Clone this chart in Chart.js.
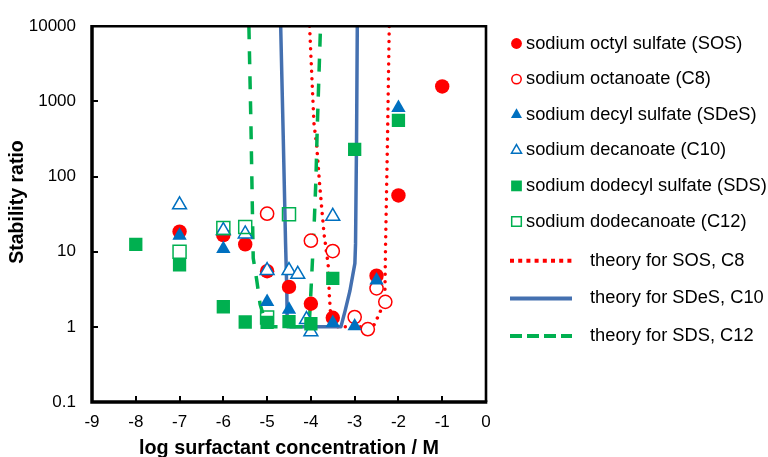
<!DOCTYPE html>
<html><head><meta charset="utf-8">
<script src="https://cdn.jsdelivr.net/npm/chart.js@4/dist/chart.umd.min.js"></script>
<style>html,body{margin:0;padding:0;background:#fff;}#wrap{width:768px;height:457px;}</style>
</head><body><div id="wrap"><canvas id="c" width="768" height="457"></canvas></div>
<script>
// ---- data ----
const xTicks = [-9,-8,-7,-6,-5,-4,-3,-2,-1,0];
const yTicks = [0.1,1,10,100,1000,10000];

const sosX = [-7,-6,-5.5,-5,-4.5,-4,-3.5,-2.5,-2,-1];
const sosY = [18.5,16.6,12.5,5.5,3.4,2.03,1.32,4.8,56,1580];
const c8X = [-5,-4,-3.5,-3,-2.7,-2.5,-2.3];
const c8Y = [32,14,10.2,1.35,0.93,3.25,2.15];
const sdesX = [-7,-6,-5,-4.5,-3.5,-3,-2.5,-2];
const sdesY = [16.4,10.9,2.15,1.7,1.13,1.02,4.15,820];
const c10X = [-7,-6,-5.5,-5,-4.5,-4.3,-4.1,-4,-3.5];
const c10Y = [42,19.1,17.2,5.6,5.6,5.0,1.25,0.86,29.5];
const sdsX = [-8,-7,-6,-5.5,-5,-4.5,-4,-3.5,-3,-2];
const sdsY = [12.5,6.7,1.85,1.16,1.15,1.17,1.1,4.4,229,560];
const c12X = [-7,-6,-5.5,-5,-4.5];
const c12Y = [10,20.7,21.3,1.33,31.5];

const thSosX = [-4.03,-3.93,-3.87,-3.795,-3.70,-3.605,-3.58,-3.53,-2.58,-2.425,-2.31,-2.295,-2.25,-2.21];
const thSosY = [10000,513,266,72,17.4,6.7,2.7,1,1,1.53,2.56,11.6,307,10000];
const thSdesX = [-4.69,-4.63,-4.578,-4.55,-4.54,-3.315,-3.22,-3.11,-2.995,-2.98,-2.957,-2.94];
const thSdesY = [10000,307,12.7,3.0,1,1,1.62,2.98,7,12.7,307,10000];
const thSdsX = [-5.416,-5.37,-5.34,-5.317,-5.24,-5.16,-5.01,-4.04,-3.984,-3.93,-3.886,-3.856,-3.78];
const thSdsY = [10000,513,48,8.2,4.3,2.0,1,1,4.4,19.5,88.6,415,10000];

// ---- styling ----
const FONT = '"Liberation Sans", Arial, sans-serif';
const RED = '#FF0000', BLUE = '#0070C0', GREEN = '#00B050', LBLUE = '#4470B0';
const NOFILL = 'rgba(255,255,255,0)';
const zip = (xs, ys) => xs.map((x, i) => ({x: x, y: ys[i]}));

function markerSet(label, xs, ys, style, r, fill, stroke, bw, order, legR) {
  return {label, data: zip(xs, ys), showLine: false, pointStyle: style, pointRadius: r,
    pointHoverRadius: r, pointBackgroundColor: fill, pointBorderColor: stroke,
    pointBorderWidth: bw, order, legendRadius: legR};
}
function lineSet(label, xs, ys, color, dash, cap, order, legDash) {
  return {label, data: zip(xs, ys), showLine: true, pointRadius: 0, pointHoverRadius: 0,
    borderColor: color, borderWidth: 3.5, borderDash: dash, borderCapStyle: cap,
    borderJoinStyle: 'round', tension: 0, fill: false, order, legendDash: legDash};
}

const datasets = [
  markerSet('sodium octyl sulfate (SOS)', sosX, sosY, 'circle', 7.2, RED, RED, 0, 6, 5.4),
  markerSet('sodium octanoate (C8)', c8X, c8Y, 'circle', 6.6, '#fff', RED, 1.5, 5, 4.7),
  markerSet('sodium decyl sulfate (SDeS)', sdesX, sdesY, 'triangle', 8.3, BLUE, BLUE, 0, 4, 6.4),
  markerSet('sodium decanoate (C10)', c10X, c10Y, 'triangle', 8.0, '#fff', BLUE, 1.5, 3, 5.8),
  markerSet('sodium dodecyl sulfate (SDS)', sdsX, sdsY, 'rect', 9.4, GREEN, GREEN, 0, 2, 7.6),
  markerSet('sodium dodecanoate (C12)', c12X, c12Y, 'rect', 9.2, NOFILL, GREEN, 1.5, 1, 6.8),
  lineSet('theory for SOS, C8', thSosX, thSosY, RED, [0.01, 7.5], 'round', 12, [4, 4.2]),
  lineSet('theory for SDeS, C10', thSdesX, thSdesY, LBLUE, [], 'butt', 11, []),
  lineSet('theory for SDS, C12', thSdsX, thSdsY, GREEN, [13, 12], 'butt', 10, [12, 5])
];

// frame + inward ticks + y title
const framePlugin = {
  id: 'frame',
  afterDatasetsDraw(chart) {
    const ctx = chart.ctx, a = chart.chartArea;
    const xs = chart.scales.x, ys = chart.scales.y;
    ctx.save();
    ctx.strokeStyle = '#000';
    ctx.lineCap = 'butt';
    ctx.lineWidth = 2;
    xTicks.forEach(v => {
      const px = Math.round(xs.getPixelForValue(v));
      ctx.beginPath(); ctx.moveTo(px, a.bottom); ctx.lineTo(px, a.bottom - 6); ctx.stroke();
    });
    yTicks.forEach(v => {
      const py = Math.round(ys.getPixelForValue(v));
      ctx.beginPath(); ctx.moveTo(a.left, py); ctx.lineTo(a.left + 6, py); ctx.stroke();
    });
    ctx.lineWidth = 2.6;
    ctx.beginPath(); ctx.moveTo(a.left, a.top); ctx.lineTo(a.right, a.top); ctx.lineTo(a.right, a.bottom); ctx.stroke();
    ctx.lineWidth = 3.5;
    ctx.beginPath(); ctx.moveTo(a.left, a.top - 1.3); ctx.lineTo(a.left, a.bottom); ctx.lineTo(a.right + 1.3, a.bottom); ctx.stroke();
    ctx.fillStyle = '#000';
    ctx.font = 'bold 19.5px ' + FONT;
    ctx.textAlign = 'center';
    ctx.textBaseline = 'middle';
    ctx.translate(18, 202);
    ctx.rotate(-Math.PI / 2);
    ctx.fillText('Stability ratio', 0, 0);
    ctx.restore();
  }
};

const legendPlugin = {
  id: 'customLegend',
  afterDraw(chart) {
    const ctx = chart.ctx;
    ctx.save();
    ctx.font = '18.3px ' + FONT;
    ctx.textBaseline = 'middle';
    ctx.textAlign = 'left';
    let mi = 0, li = 0;
    chart.data.datasets.forEach(d => {
      if (!d.showLine) {
        const y = 43.5 + mi * 35.6; mi++;
        ctx.save();
        ctx.fillStyle = d.pointBackgroundColor;
        ctx.strokeStyle = d.pointBorderColor;
        ctx.lineWidth = d.pointBorderWidth;
        Chart.helpers.drawPoint(ctx, {pointStyle: d.pointStyle, radius: d.legendRadius,
          borderWidth: d.pointBorderWidth, rotation: 0}, 516.5, y);
        ctx.restore();
        ctx.fillStyle = '#000';
        ctx.fillText(d.label, 526, y);
      } else {
        const y = 260.7 + li * 37.7; li++;
        ctx.save();
        ctx.strokeStyle = d.borderColor;
        ctx.lineWidth = 4;
        ctx.setLineDash(d.legendDash);
        ctx.beginPath(); ctx.moveTo(510, y); ctx.lineTo(572, y); ctx.stroke();
        ctx.restore();
        ctx.fillStyle = '#000';
        ctx.fillText(d.label, 590, y);
      }
    });
    ctx.restore();
  }
};

new Chart(document.getElementById('c'), {
  type: 'scatter',
  data: {datasets},
  options: {
    responsive: false,
    devicePixelRatio: 1,
    animation: false,
    events: [],
    layout: {padding: {left: 0, right: 282, top: 22, bottom: 0}},
    plugins: {legend: {display: false}, tooltip: {enabled: false}},
    scales: {
      x: {
        type: 'linear', min: -9, max: 0,
        grid: {display: false, drawTicks: false},
        border: {display: false},
        afterBuildTicks: s => { s.ticks = xTicks.map(v => ({value: v})); },
        afterFit: s => { s.height = 55; },
        ticks: {color: '#000', font: {family: FONT, size: 17}, padding: 10,
          maxRotation: 0, autoSkip: false, callback: v => String(v)},
        title: {display: true, text: 'log surfactant concentration / M', color: '#000',
          font: {family: FONT, size: 19.8, weight: 'bold'}, padding: {top: 0, bottom: -3}}
      },
      y: {
        type: 'logarithmic', min: 0.1, max: 10000,
        grid: {display: false, drawTicks: false},
        border: {display: false},
        afterBuildTicks: s => { s.ticks = yTicks.map(v => ({value: v})); },
        afterFit: s => { s.width = 92; },
        ticks: {color: '#000', font: {family: FONT, size: 17}, padding: 16,
          autoSkip: false, callback: v => String(v)}
      }
    }
  },
  plugins: [framePlugin, legendPlugin]
});
</script>
</body></html>
